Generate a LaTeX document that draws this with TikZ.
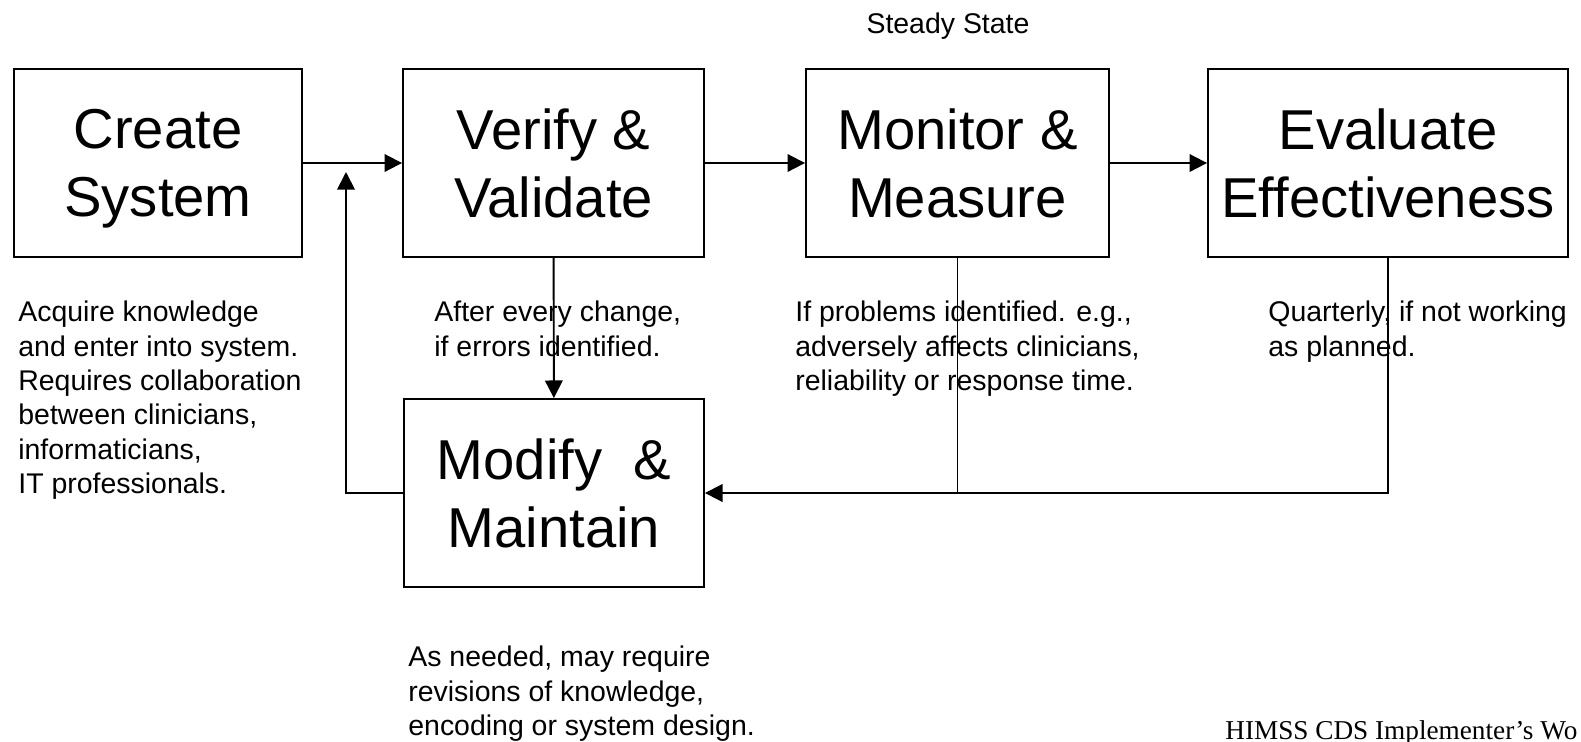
\documentclass[tikz,border=0pt]{standalone}
\usepackage{fontspec}
\setmainfont{Liberation Sans}
\newfontfamily\footfont{Liberation Serif}
\usepackage{tikz}
\usetikzlibrary{calc}
\usetikzlibrary{arrows.meta}
\tikzset{>={Triangle[length=10pt,width=10pt]}}

\begin{document}
\begin{tikzpicture}[x=0.02cm,y=-0.02cm,
  stage/.style={draw,line width=1.1pt,inner sep=0pt,minimum height=3.76cm,align=center,
    font=\fontsize{32}{38.7}\selectfont},
  note/.style={anchor=north west,inner sep=0pt,align=left,font=\fontsize{16.2}{19.5}\selectfont},
  flow/.style={->,line width=1.1pt}]
\useasboundingbox (0,0) rectangle (1581,741);

% the five stages
\node[stage,minimum width=5.77cm] (create) at (158,163) {Create\\\raisebox{0pt}[\height][0pt]{System}}; % no depth below
\node[stage,minimum width=6.02cm] (verify) at (553.5,163) {Verify \&\\Validate};
\node[stage,minimum width=6.06cm] (monitor) at (957.5,163) {Monitor \&\\Measure};
\node[stage,minimum width=7.2cm] (evaluate) at (1388,163) {Evaluate\\Effectiveness};
\node[stage,minimum width=6.0cm] (modify) at (554,493) {Modify\ \ \&\\Maintain};

\node[anchor=base,inner sep=0pt,font=\fontsize{16.2}{19.5}\selectfont] (steady) at (948,33) {Steady State};

% notes under the stages
\node[note] (createnote) at (18,301) {Acquire knowledge\\and enter into system.\\Requires collaboration\\between clinicians,\\informaticians,\\IT professionals.};
\node[note] (verifynote) at (434,301) {After every change,\\if errors identified.};
\node[note] (monitornote) at (795,301) {If problems identified. e.g.,\\adversely affects clinicians,\\reliability or response time.};
\node[note] (evalnote) at (1268,301) {Quarterly, if not working\\as planned.};
\node[note] (modifynote) at (408,646) {As needed, may require\\revisions of knowledge,\\encoding or system design.};

% main flow
\draw[flow] (create) -- (verify);
\draw[flow] (verify) -- (monitor);
\draw[flow] (monitor) -- (evaluate);
\draw[flow] (verify) -- (modify);

% feedback loops
\coordinate (back) at (346,172);
\draw[flow] (modify.west) -| (back);
\draw[flow] (evaluate.south) |- (modify.east);
\draw[line width=1.1pt] (monitor.south) -- (monitor.south |- modify.east);

\node[anchor=base west,inner sep=0pt,font=\footfont\fontsize{15.5}{18}\selectfont] (footer) at (1225,739) {HIMSS CDS Implementer’s Wo};
\end{tikzpicture}
\end{document}
